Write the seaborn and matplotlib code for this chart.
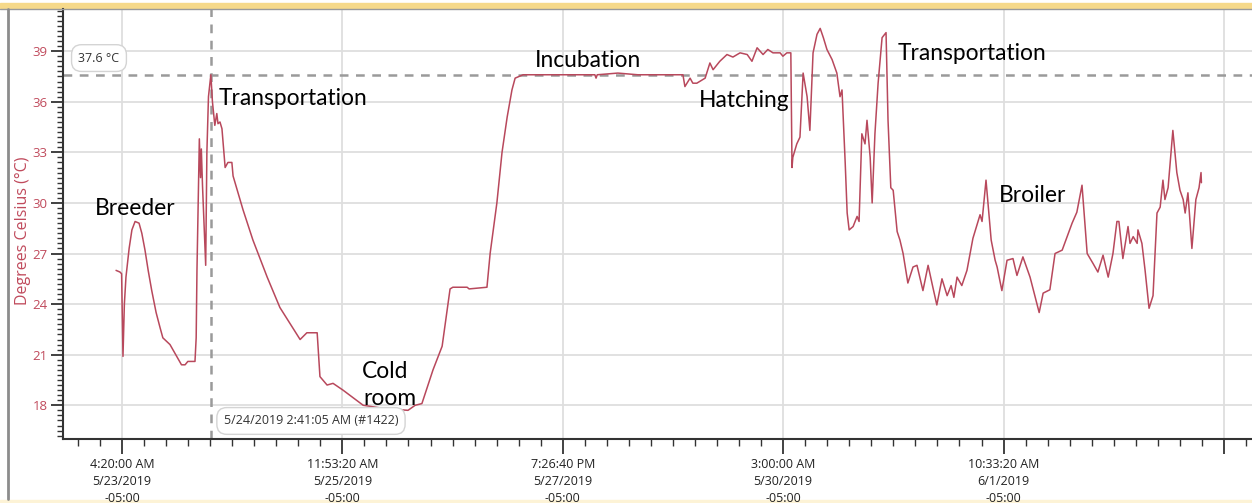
import matplotlib
matplotlib.use("Agg")
import matplotlib.pyplot as plt
import matplotlib.dates as mdates
import matplotlib.ticker as mticker
from matplotlib.lines import Line2D
from matplotlib.patches import Rectangle
import pandas as pd
import seaborn as sns

# --- data ---
START = pd.Timestamp("2019-05-23 04:20:00")   # first labelled tick
CURSOR = pd.Timestamp("2019-05-24 02:41:05")  # crosshair position
CURSOR_TEMP = 37.6

# elapsed hours since START and temperature (°C)
hours = [
    -1.5, -0.5, -0.1, 0.25, 0.6, 1.0, 1.8, 2.5, 3.3, 4.3, 5.0, 5.8, 6.6, 7.5,
    8.6, 9.6, 10.3, 12.1, 13.8, 15.0, 15.9, 16.6, 18.4, 18.7, 18.9, 19.3,
    19.5, 19.8, 20.0, 20.3, 21.1, 21.4, 21.8, 22.4, 22.8, 23.4, 23.9, 24.2,
    24.7, 25.2, 26.0, 26.7, 27.7, 28.0, 30.5, 33.0, 36.6, 39.8, 44.9, 46.6,
    49.2, 49.9, 51.7, 53.2, 55.7, 60.8, 66.3, 72.1, 73.9, 75.6, 78.4, 80.7,
    82.7, 83.4, 87.0, 87.5, 92.0, 92.8, 94.5, 95.8, 97.1, 98.3, 99.1, 100.1,
    101.1, 110.0, 119.2, 119.5, 119.8, 125.0, 130.0, 141.4, 141.9, 143.2,
    143.9, 144.9, 147.0, 148.2, 149.0, 150.7, 152.5, 154.0, 155.8, 157.6,
    158.8, 160.1, 161.6, 162.8, 164.1, 165.9, 166.6, 167.6, 168.6, 168.9,
    169.1, 170.1, 170.9, 171.7, 172.7, 173.4, 174.2, 175.2, 176.0, 176.8,
    177.7, 179.0, 180.2, 181.0, 181.5, 182.3, 182.8, 183.3, 184.3, 185.3,
    185.8, 186.5, 187.3, 187.8, 188.6, 189.1, 189.8, 190.6, 191.6, 192.6,
    193.1, 193.8, 194.4, 195.4, 196.1, 196.9, 198.1, 199.4, 200.4, 201.7,
    201.9, 203.2, 204.4, 205.4, 206.7, 208.0, 209.0, 209.7, 210.5, 211.7,
    213.0, 214.5, 216.3, 216.8, 217.8, 219.1, 220.1, 220.6, 221.8, 223.1,
    224.6, 225.6, 227.1, 228.9, 231.2, 232.2, 233.9, 235.2, 237.0, 239.5,
    240.7, 242.0, 243.3, 244.8, 246.0, 247.3, 248.6, 249.8, 250.8, 251.3,
    252.3, 253.6, 254.1, 254.9, 255.9, 256.1, 257.1, 257.9, 258.9, 259.9,
    260.9, 261.7, 262.4, 262.9, 263.7, 264.9, 265.9, 266.7, 267.5, 268.0,
    268.7, 269.7, 270.7, 271.5, 272.0, 272.1,
]
temps = [
    26.0, 25.9, 25.8, 20.9, 24.0, 25.6, 27.3, 28.4, 28.9, 28.8, 28.2, 27.2,
    26.0, 24.8, 23.5, 22.6, 22.0, 21.6, 20.9, 20.4, 20.4, 20.6, 20.6, 22.0,
    26.0, 31.0, 33.8, 31.5, 33.2, 31.0, 26.3, 33.0, 36.3, 37.6, 36.0, 34.6,
    35.3, 34.7, 34.8, 34.4, 32.1, 32.4, 32.4, 31.6, 29.6, 27.8, 25.6, 23.8,
    21.9, 22.3, 22.3, 19.7, 19.2, 19.3, 18.9, 18.0, 17.8, 17.7, 18.0, 18.1,
    20.1, 21.5, 24.9, 25.0, 25.0, 24.9, 25.0, 27.0, 30.0, 33.0, 35.1, 36.7,
    37.4, 37.5, 37.6, 37.6, 37.6, 37.4, 37.6, 37.7, 37.6, 37.6, 36.9, 37.4,
    37.1, 37.1, 37.4, 38.3, 37.9, 38.4, 38.8, 38.65, 38.9, 38.8, 38.4, 39.2,
    38.8, 39.1, 38.9, 38.9, 38.7, 38.9, 38.9, 32.1, 32.7, 33.5, 33.9, 37.7,
    36.3, 34.3, 38.9, 40.0, 40.35, 39.8, 39.1, 38.5, 37.7, 36.3, 36.7, 32.4,
    29.4, 28.4, 28.6, 29.2, 28.9, 34.1, 33.5, 34.9, 32.7, 30.0, 34.1, 37.1,
    39.8, 40.1, 34.9, 30.9, 30.75, 28.3, 27.8, 27.0, 25.25, 26.2, 26.3, 25.0,
    24.8, 26.3, 25.0, 23.95, 25.5, 24.5, 25.1, 24.4, 25.6, 25.1, 26.0, 27.9,
    29.3, 28.9, 31.35, 27.8, 26.6, 26.2, 24.8, 26.6, 26.7, 25.7, 26.8, 25.6,
    23.5, 24.65, 24.85, 27.0, 27.2, 28.8, 29.45, 31.05, 27.0, 26.4, 25.9,
    26.9, 25.6, 27.0, 28.9, 28.9, 26.7, 28.6, 27.6, 28.0, 27.6, 28.4, 27.6,
    26.0, 23.75, 24.5, 29.4, 29.75, 31.35, 30.2, 30.9, 34.3, 31.8, 30.75,
    30.2, 29.4, 30.6, 27.3, 30.2, 30.9, 31.8, 31.2,
]

# stage labels: text, hours, baseline temp
stage_labels = ["Breeder", "Transportation", "Cold", "room", "Incubation",
                "Hatching", "Transportation", "Broiler"]
stage_hours = [-6.8, 24.45, 60.5, 60.75, 104.1, 145.4, 195.6, 221.1]
stage_temps = [29.28, 35.80, 19.62, 18.02, 38.05, 35.68, 38.47, 30.05]

TICK_STEP = pd.Timedelta(seconds=200000)

LINE = "#b8485c"
LABEL_RED = "#c04a5c"

df = pd.DataFrame({"time": START + pd.to_timedelta(hours, unit="h"), "temp": temps})

sns.set_theme(style="white")
plt.rcParams["font.family"] = ["Open Sans", "DejaVu Sans"]

W, H = 1252, 503
fig = plt.figure(figsize=(W / 100, H / 100), dpi=100)
ax = fig.add_axes([63 / W, 1 - 439 / H, 1 - 63 / W, (439 - 9) / H])

sns.lineplot(data=df, x="time", y="temp", ax=ax, color=LINE, linewidth=1.1)

# crosshair
ax.axhline(CURSOR_TEMP, color="#9a9a9a", linewidth=1.8, linestyle=(0, (3.5, 3)), zorder=1)
ax.axvline(CURSOR, color="#9a9a9a", linewidth=1.8, linestyle=(0, (3.5, 3)), zorder=1)

# limits
ax.set_xlim(START - pd.Timedelta(hours=14.87), START + pd.Timedelta(hours=284.85))
ax.set_ylim(16.0, 41.5)

# x ticks every 200000 s, minor every 20000 s
major = [mdates.date2num(START + k * TICK_STEP) for k in range(6)]
minor = [mdates.date2num(START + k * TICK_STEP / 10) for k in range(-2, 58)]
ax.xaxis.set_major_locator(mticker.FixedLocator(major))
ax.xaxis.set_minor_locator(mticker.FixedLocator(minor))


def fmt_time(v, pos):
    if pos == 5:
        return ""
    d = mdates.num2date(v)
    hour = d.hour % 12 or 12
    return f"{hour}:{d:%M:%S} {d:%p}\n{d.month}/{d.day}/{d.year}\n-05:00"


ax.xaxis.set_major_formatter(mticker.FuncFormatter(fmt_time))
ax.yaxis.set_major_locator(mticker.MultipleLocator(3))
ax.yaxis.set_minor_locator(mticker.MultipleLocator(0.3))

ax.tick_params(axis="x", which="major", bottom=True, direction="out", length=11, width=1.3,
               color="#333333", labelsize=9, pad=3, labelcolor="#222222")
ax.tick_params(axis="x", which="minor", bottom=True, direction="out", length=5, width=1.0,
               color="#333333")
ax.tick_params(axis="y", which="major", left=True, direction="out", length=9, width=1.3,
               color="#333333", labelsize=9.5, pad=2, labelcolor=LABEL_RED)
ax.tick_params(axis="y", which="minor", left=True, direction="out", length=4, width=1.0,
               color="#333333")
for lbl in ax.get_xticklabels():
    lbl.set_linespacing(1.4)

ax.grid(True, which="major", color="#dedede", linewidth=1.3)
ax.set_axisbelow(True)
for side in ("top", "right"):
    ax.spines[side].set_visible(False)
for side in ("left", "bottom"):
    ax.spines[side].set_color("#333333")
    ax.spines[side].set_linewidth(1.5)

ax.set_xlabel("")
ax.set_ylabel("Degrees Celsius (°C)", color=LABEL_RED, fontsize=11.5)
ax.yaxis.set_label_coords((31 - 63) / (W - 63), (439 - 231) / 430)

# stage annotations
for text, h, t in zip(stage_labels, stage_hours, stage_temps):
    ax.text(START + pd.Timedelta(hours=h), t, text, fontsize=16.4, family=["Lato", "DejaVu Sans"],
            color="black", ha="left", va="baseline")

# cursor read-outs
box = dict(boxstyle="round,pad=0.55,rounding_size=0.8", fc="white", ec="#d4d4d4", lw=1.0)
ax.text(START - pd.Timedelta(hours=5.8), 38.59, f"{CURSOR_TEMP} °C", fontsize=9,
        color="#333333", ha="center", va="center", bbox=box)
ax.text(START + pd.Timedelta(hours=47.64), 17.07, "5/24/2019 2:41:05 AM (#1422)",
        fontsize=9, color="#333333", ha="center", va="center", bbox=box)

# window frame bits
fig.add_artist(Rectangle((0, 1 - 8 / H), 1, 5 / H, transform=fig.transFigure,
                         color="#f6d98a", zorder=0))
fig.add_artist(Line2D([0, 1], [1 - 8.5 / H] * 2, transform=fig.transFigure,
                      color="#9a9a9a", lw=1))
fig.add_artist(Line2D([8 / W] * 2, [4 / H, 1 - 9 / H], transform=fig.transFigure,
                      color="#8c8c8c", lw=2))
fig.add_artist(Rectangle((0, 0), 1, 3 / H, transform=fig.transFigure,
                         color="#fdf3d6", zorder=0))

fig.savefig("out.png", dpi=100)
